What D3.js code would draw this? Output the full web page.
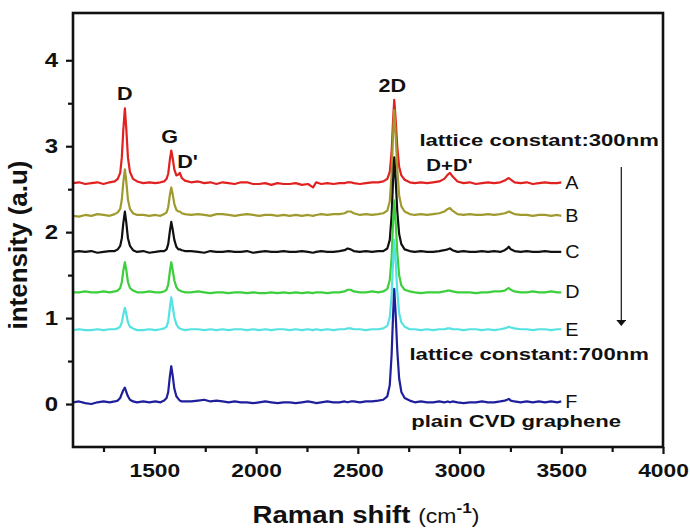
<!DOCTYPE html>
<html>
<head>
<meta charset="utf-8">
<script src="https://cdn.jsdelivr.net/npm/d3@7"></script>
<style>
body { margin: 0; background: #fff; }
svg text { font-family: "Liberation Sans", Arial, sans-serif; fill: #111; }
</style>
</head>
<body>
<script>
// Raman shift grid (cm-1), shared by all spectra
const shifts = [
    1100, 1130, 1160, 1190, 1220, 1250, 1280, 1305, 1320, 1332,
    1340, 1347, 1355, 1362, 1370, 1380, 1395, 1415, 1445, 1475,
    1505, 1530, 1548, 1560, 1568, 1576, 1583, 1590, 1598, 1608,
    1618, 1625, 1635, 1650, 1680, 1715, 1745, 1775, 1805, 1835,
    1865, 1895, 1925, 1955, 1985, 2015, 2045, 2075, 2105, 2135,
    2165, 2195, 2225, 2255, 2280, 2295, 2320, 2350, 2380, 2410,
    2435, 2450, 2465, 2480, 2510, 2540, 2570, 2600, 2625, 2645,
    2657, 2666, 2673, 2679, 2686, 2694, 2703, 2714, 2730, 2755,
    2780, 2810, 2840, 2870, 2900, 2925, 2942, 2953, 2965, 2990,
    3020, 3050, 3080, 3110, 3140, 3170, 3200, 3222, 3234, 3242,
    3252, 3270, 3300, 3330, 3360, 3390, 3420, 3450, 3480, 3500
];

// intensities above each spectrum's own baseline
const spectrumA = [
    0.00, 0.01, -0.01, 0.00, 0.01, -0.01, 0.01, 0.02, 0.05, 0.12,
    0.30, 0.61, 0.87, 0.63, 0.30, 0.13, 0.05, 0.02, 0.00, 0.01,
    0.00, 0.01, 0.02, 0.05, 0.11, 0.27, 0.38, 0.29, 0.16, 0.09,
    0.10, 0.12, 0.06, 0.03, 0.01, 0.02, 0.00, 0.01, -0.01, 0.01,
    0.00, -0.01, 0.01, 0.01, -0.01, -0.01, 0.00, -0.02, 0.00, -0.01,
    -0.01, 0.00, -0.02, -0.01, -0.05, 0.01, -0.01, 0.00, -0.01, 0.00,
    0.00, 0.01, 0.01, 0.00, -0.01, 0.00, 0.01, 0.01, 0.02, 0.05,
    0.13, 0.36, 0.72, 0.97, 0.74, 0.42, 0.19, 0.09, 0.04, 0.01,
    0.00, 0.01, 0.00, 0.01, 0.02, 0.05, 0.10, 0.12, 0.08, 0.02,
    0.00, 0.01, -0.01, 0.00, 0.01, 0.00, 0.01, 0.03, 0.05, 0.06,
    0.04, 0.01, 0.00, 0.01, -0.01, 0.00, 0.01, 0.00, 0.00, 0.01
];
const spectrumB = [
    0.00, -0.01, 0.01, 0.00, 0.02, 0.01, 0.00, 0.02, 0.04, 0.08,
    0.19, 0.38, 0.54, 0.40, 0.19, 0.08, 0.03, 0.01, 0.01, 0.00,
    0.01, 0.00, 0.02, 0.04, 0.10, 0.24, 0.33, 0.25, 0.14, 0.07,
    0.05, 0.05, 0.03, 0.02, 0.01, 0.02, 0.01, 0.00, 0.02, 0.02,
    0.01, 0.00, 0.01, 0.02, 0.01, 0.00, 0.01, 0.01, 0.00, 0.01,
    0.00, 0.01, 0.00, 0.01, 0.00, 0.01, 0.02, 0.01, 0.02, 0.02,
    0.03, 0.05, 0.05, 0.03, 0.01, 0.02, 0.01, 0.02, 0.03, 0.06,
    0.17, 0.48, 0.92, 1.23, 0.94, 0.54, 0.24, 0.11, 0.05, 0.02,
    0.01, 0.02, 0.01, 0.02, 0.03, 0.05, 0.08, 0.09, 0.06, 0.02,
    0.01, 0.02, 0.01, 0.01, 0.02, 0.01, 0.02, 0.03, 0.04, 0.05,
    0.04, 0.02, 0.01, 0.01, 0.00, 0.01, 0.01, 0.00, 0.01, 0.00
];
const spectrumC = [
    0.00, 0.01, 0.00, 0.01, -0.01, 0.00, 0.01, 0.01, 0.03, 0.07,
    0.16, 0.33, 0.47, 0.34, 0.16, 0.07, 0.02, 0.00, 0.01, -0.01,
    0.00, 0.01, 0.01, 0.03, 0.09, 0.24, 0.35, 0.26, 0.14, 0.06,
    0.03, 0.03, 0.02, 0.01, 0.01, 0.00, -0.01, 0.01, 0.00, 0.00,
    0.01, 0.00, 0.00, 0.01, -0.01, 0.00, 0.01, 0.00, 0.00, 0.01,
    0.00, 0.00, 0.01, 0.00, -0.01, 0.00, 0.01, 0.00, 0.00, 0.01,
    0.02, 0.04, 0.03, 0.01, 0.00, 0.01, 0.00, 0.01, 0.01, 0.04,
    0.14, 0.42, 0.82, 1.10, 0.84, 0.47, 0.21, 0.09, 0.03, 0.01,
    0.00, 0.01, 0.00, 0.00, 0.01, 0.02, 0.03, 0.04, 0.02, 0.00,
    0.01, 0.00, 0.00, 0.01, 0.00, 0.01, 0.00, 0.02, 0.04, 0.06,
    0.03, 0.01, 0.00, 0.01, 0.00, 0.00, 0.01, 0.00, 0.00, 0.00
];
const spectrumD = [
    0.00, 0.00, 0.01, 0.00, 0.00, 0.01, 0.00, 0.01, 0.02, 0.05,
    0.12, 0.25, 0.35, 0.26, 0.12, 0.05, 0.02, 0.00, 0.00, 0.01,
    0.00, 0.00, 0.01, 0.03, 0.09, 0.24, 0.35, 0.26, 0.14, 0.06,
    0.03, 0.02, 0.01, 0.00, 0.00, 0.01, 0.00, -0.01, 0.00, 0.00,
    -0.01, 0.00, 0.00, -0.01, 0.00, -0.01, -0.01, 0.00, -0.01, 0.00,
    -0.01, 0.00, -0.01, 0.00, -0.01, 0.00, 0.00, -0.01, 0.00, 0.00,
    0.01, 0.03, 0.03, 0.01, 0.00, 0.00, 0.01, 0.00, 0.01, 0.04,
    0.14, 0.40, 0.80, 1.07, 0.82, 0.46, 0.20, 0.08, 0.03, 0.01,
    0.00, -0.01, 0.00, 0.00, 0.00, 0.01, 0.02, 0.02, 0.01, 0.00,
    0.00, 0.00, -0.01, 0.00, 0.00, 0.01, 0.01, 0.02, 0.04, 0.05,
    0.03, 0.01, 0.00, 0.00, 0.01, 0.00, 0.00, 0.01, 0.00, 0.00
];
const spectrumE = [
    0.00, 0.01, 0.00, 0.00, 0.01, 0.00, 0.01, 0.01, 0.02, 0.04,
    0.09, 0.18, 0.26, 0.19, 0.09, 0.04, 0.02, 0.00, 0.00, 0.01,
    0.00, 0.01, 0.02, 0.04, 0.10, 0.26, 0.38, 0.28, 0.15, 0.07,
    0.03, 0.02, 0.01, 0.00, 0.01, 0.01, 0.00, 0.01, 0.00, 0.01,
    0.00, 0.01, 0.01, 0.00, 0.01, 0.00, 0.01, 0.00, 0.01, 0.01,
    0.00, 0.01, 0.00, 0.01, 0.00, 0.01, 0.00, 0.01, 0.00, 0.01,
    0.01, 0.02, 0.02, 0.01, 0.01, 0.00, 0.01, 0.01, 0.02, 0.05,
    0.15, 0.40, 0.78, 1.05, 0.80, 0.45, 0.20, 0.09, 0.04, 0.01,
    0.01, 0.00, 0.01, 0.00, 0.01, 0.01, 0.02, 0.02, 0.01, 0.01,
    0.00, 0.01, 0.01, 0.00, 0.01, 0.00, 0.01, 0.02, 0.03, 0.04,
    0.03, 0.02, 0.01, 0.01, 0.00, 0.01, 0.01, 0.00, 0.01, 0.01
];
const spectrumF = [
    0.00, 0.01, -0.01, -0.02, 0.00, 0.01, 0.00, 0.01, 0.02, 0.05,
    0.10, 0.14, 0.17, 0.12, 0.07, 0.03, 0.01, 0.00, 0.01, 0.00,
    0.01, 0.00, 0.02, 0.05, 0.12, 0.30, 0.42, 0.31, 0.16, 0.07,
    0.04, 0.02, 0.01, 0.01, 0.01, 0.02, 0.03, 0.01, 0.02, 0.01,
    0.00, 0.01, 0.00, 0.00, -0.01, 0.00, 0.01, 0.00, -0.01, 0.00,
    0.00, -0.01, 0.00, 0.01, 0.00, -0.01, 0.00, 0.01, 0.00, 0.00,
    0.01, 0.00, 0.01, 0.01, 0.00, 0.01, 0.01, 0.02, 0.03, 0.07,
    0.20, 0.55, 1.00, 1.32, 1.02, 0.60, 0.28, 0.12, 0.05, 0.02,
    0.00, 0.01, 0.00, 0.00, 0.01, 0.00, 0.01, 0.00, 0.01, 0.00,
    -0.01, 0.00, 0.00, 0.01, 0.00, 0.00, 0.01, 0.02, 0.03, 0.04,
    0.02, 0.01, 0.00, 0.01, 0.00, 0.01, 0.00, 0.01, 0.00, 0.01
];

const sampleNames = ["A", "B", "C", "D", "E", "F"];
const offsets = [2.57, 2.19, 1.77, 1.30, 0.86, 0.02];
const spectra = [spectrumA, spectrumB, spectrumC, spectrumD, spectrumE, spectrumF];
const colors = ["#e0211f", "#a09a2e", "#111111", "#3ccf3c", "#55e2e2", "#1f1f9c"];

const xTicks = [1500, 2000, 2500, 3000, 3500, 4000];
const xMinor = [1250, 1750, 2250, 2750, 3250, 3750];
const yTicks = [0, 1, 2, 3, 4];
const yMinor = [0.5, 1.5, 2.5, 3.5];

const margin = { top: 13, right: 27, bottom: 84, left: 73 },
    width = 690 - margin.left - margin.right,
    height = 531 - margin.top - margin.bottom;

const stretch = 1.2; // the picture is wider than tall, letters look stretched

const x = d3.scaleLinear().domain([1100, 4000]).range([0, width]);
const y = d3.scaleLinear().domain([-0.5, 4.55]).range([height, 0]);

const svg = d3.select("body")
    .append("svg")
    .attr("width", 690)
    .attr("height", 531)
    .append("g")
    .attr("transform", "translate(" + margin.left + "," + margin.top + ")");

// spectra
const line = d3.line()
    .x((d, i) => x(shifts[i]))
    .y(d => d);

spectra.forEach(function (s, k) {
    svg.append("path")
        .datum(s.map(v => y(v + offsets[k])))
        .attr("fill", "none")
        .attr("stroke", colors[k])
        .attr("stroke-width", 2.2)
        .attr("stroke-linejoin", "round")
        .attr("d", line);
});

/**
 * axes
 */
const xAxis = svg.append("g")
    .attr("transform", "translate(0," + height + ")")
    .call(d3.axisBottom(x).tickValues(xTicks).tickSize(7).tickPadding(10).tickFormat(d3.format("d")));
svg.append("g")
    .attr("transform", "translate(0," + height + ")")
    .call(d3.axisBottom(x).tickValues(xMinor).tickSize(5).tickFormat(""));

const yAxis = svg.append("g")
    .call(d3.axisLeft(y).tickValues(yTicks).tickSize(7).tickFormat(d3.format("d")));
svg.append("g")
    .call(d3.axisLeft(y).tickValues(yMinor).tickSize(5).tickFormat(""));

svg.selectAll(".domain").remove();
svg.selectAll(".tick line").attr("stroke", "#111").attr("stroke-width", 2.2);

xAxis.selectAll("text")
    .attr("font-size", 19).attr("font-weight", "bold")
    .attr("transform", "scale(" + stretch + ",1)");
yAxis.selectAll("text")
    .attr("font-size", 20).attr("font-weight", "bold")
    .attr("x", -15 / stretch)
    .attr("transform", "scale(" + stretch + ",1)");

svg.append("rect")
    .attr("width", width)
    .attr("height", height)
    .attr("fill", "none")
    .attr("stroke", "#111")
    .attr("stroke-width", 2.6);

// text helper, positions in pixels of the plot group
function label(px, py, txt, size, weight, anchor, sx) {
    return svg.append("text")
        .attr("transform", "translate(" + px + "," + py + ") scale(" + (sx || stretch) + ",1)")
        .attr("font-size", size)
        .attr("font-weight", weight)
        .attr("text-anchor", anchor)
        .text(txt);
}

// peak names
label(x(1355), 87, "D", 18, "bold", "middle");
label(x(1575), 130, "G", 18, "bold", "middle");
label(x(1612), 155, "D'", 18, "bold", "start");
label(x(2670), 79, "2D", 18, "bold", "middle");
label(x(2950), 158, "D+D'", 17, "bold", "middle");

// sample names at the end of every spectrum
sampleNames.forEach(function (n, k) {
    label(x(3520), y(offsets[k]) + 6, n, 18, "normal", "start", 1.1);
});

label(x(3391), 133, "lattice constant:300nm", 17, "bold", "middle", 1.3);
label(x(3342), 347, "lattice constant:700nm", 17, "bold", "middle", 1.3);
label(x(3278), 414, "plain CVD graphene", 17, "bold", "middle", 1.3);

// arrow from 300nm to 700nm
svg.append("defs").append("marker")
    .attr("id", "head")
    .attr("viewBox", "0 0 6 10")
    .attr("refX", 5).attr("refY", 5)
    .attr("markerWidth", 6).attr("markerHeight", 10)
    .attr("markerUnits", "userSpaceOnUse")
    .attr("orient", "auto")
    .append("path")
    .attr("d", "M0,0 L6,5 L0,10 Z")
    .attr("fill", "#111");

svg.append("line")
    .attr("x1", x(3795)).attr("x2", x(3795))
    .attr("y1", 154).attr("y2", 312)
    .attr("stroke", "#111")
    .attr("stroke-width", 1.2)
    .attr("marker-end", "url(#head)");

// axis titles
svg.append("text")
    .attr("transform", "translate(-46," + (height / 2 + 15) + ") rotate(-90)")
    .attr("text-anchor", "middle")
    .attr("font-size", 26)
    .attr("font-weight", "bold")
    .text("intensity (a.u)");

const xt = svg.append("text")
    .attr("transform", "translate(" + (width / 2 - 2) + "," + (height + 76) + ") scale(1.15,1)")
    .attr("text-anchor", "middle")
    .attr("font-size", 24)
    .attr("font-weight", "bold");
xt.append("tspan").text("Raman shift ");
xt.append("tspan").attr("font-size", 20).attr("font-weight", "normal").text("(cm");
xt.append("tspan").attr("font-size", 15).attr("dy", -10).text("-1");
xt.append("tspan").attr("font-size", 20).attr("font-weight", "normal").attr("dy", 10).text(")");
</script>
</body>
</html>
